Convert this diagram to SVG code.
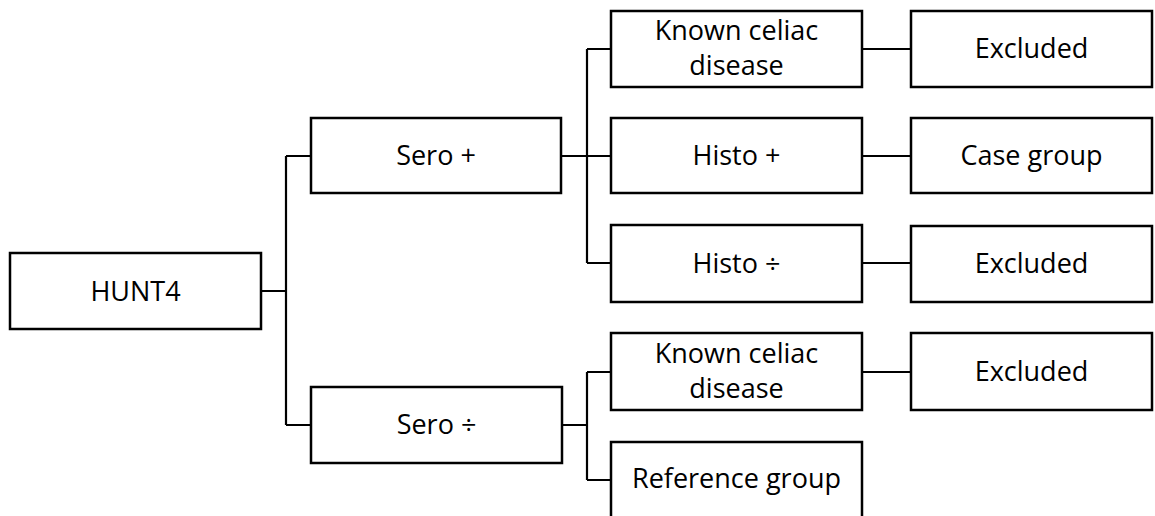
<svg xmlns="http://www.w3.org/2000/svg" width="1155" height="516" viewBox="0 0 1155 516">
<style>
.box{fill:#fff;stroke:#000;stroke-width:2.5}
.lbl{font-family:"Open Sans","Noto Sans","Liberation Sans",sans-serif;font-size:27px;fill:#000;text-anchor:middle}
.conn{fill:none;stroke:#000;stroke-width:2.2}
</style>
<rect width="1155" height="516" fill="#fff"/>
<g id="connectors">
<path class="conn" d="M261 291H286M286 156V425M286 156H311M286 425H311"/>
<path class="conn" d="M561 156H611M587 49V263M587 49H611M587 263H611"/>
<path class="conn" d="M562 425H587M587 372V480M587 372H611M587 480H611"/>
<path class="conn" d="M862 49H911M862 156H911M862 263H911M862 372H911"/>
</g>
<g id="hunt4"><rect class="box" x="10" y="253" width="251" height="76"/><text class="lbl" x="135.5" y="301">HUNT4</text></g>
<g id="sero-pos"><rect class="box" x="311" y="118" width="250" height="75"/><text class="lbl" x="436" y="165">Sero +</text></g>
<g id="sero-neg"><rect class="box" x="311" y="387" width="251" height="76"/><text class="lbl" x="436.5" y="434">Sero ÷</text></g>
<g id="known1"><rect class="box" x="611" y="11" width="251" height="76"/><text class="lbl" x="736.5" y="40">Known celiac</text><text class="lbl" x="736.5" y="75">disease</text></g>
<g id="histo-pos"><rect class="box" x="611" y="118" width="251" height="75"/><text class="lbl" x="736.5" y="165">Histo +</text></g>
<g id="histo-neg"><rect class="box" x="611" y="225" width="251" height="77"/><text class="lbl" x="736.5" y="273">Histo ÷</text></g>
<g id="known2"><rect class="box" x="611" y="333" width="251" height="77"/><text class="lbl" x="736.5" y="363">Known celiac</text><text class="lbl" x="736.5" y="398">disease</text></g>
<g id="reference"><rect class="box" x="611" y="442" width="251" height="78"/><text class="lbl" x="736.5" y="488">Reference group</text></g>
<g id="excluded1"><rect class="box" x="911" y="11" width="241" height="76"/><text class="lbl" x="1031.5" y="58">Excluded</text></g>
<g id="case"><rect class="box" x="911" y="118" width="241" height="75"/><text class="lbl" x="1031.5" y="165">Case group</text></g>
<g id="excluded2"><rect class="box" x="911" y="226" width="241" height="76"/><text class="lbl" x="1031.5" y="273">Excluded</text></g>
<g id="excluded3"><rect class="box" x="911" y="333" width="241" height="77"/><text class="lbl" x="1031.5" y="381">Excluded</text></g>
</svg>
